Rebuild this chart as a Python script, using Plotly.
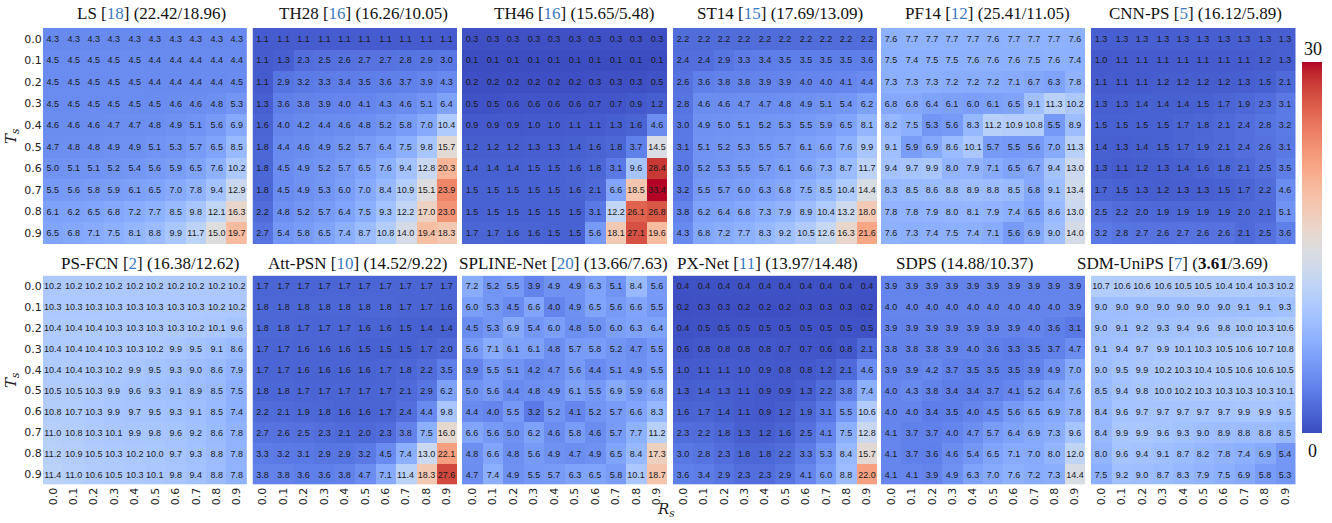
import plotly.graph_objects as go

W, H = 1332, 523
RS = ["0.0", "0.1", "0.2", "0.3", "0.4", "0.5", "0.6", "0.7", "0.8", "0.9"]
TS = ["0.0", "0.1", "0.2", "0.3", "0.4", "0.5", "0.6", "0.7", "0.8", "0.9"]

LS = [
    [4.3, 4.3, 4.3, 4.3, 4.3, 4.3, 4.3, 4.3, 4.3, 4.3],
    [4.5, 4.5, 4.5, 4.5, 4.5, 4.4, 4.4, 4.4, 4.4, 4.4],
    [4.5, 4.5, 4.5, 4.5, 4.5, 4.4, 4.4, 4.4, 4.4, 4.5],
    [4.5, 4.5, 4.5, 4.5, 4.5, 4.5, 4.6, 4.6, 4.8, 5.3],
    [4.6, 4.6, 4.6, 4.7, 4.7, 4.8, 4.9, 5.1, 5.6, 6.9],
    [4.7, 4.8, 4.8, 4.9, 4.9, 5.1, 5.3, 5.7, 6.5, 8.5],
    [5.0, 5.1, 5.1, 5.2, 5.4, 5.6, 5.9, 6.5, 7.6, 10.2],
    [5.5, 5.6, 5.8, 5.9, 6.1, 6.5, 7.0, 7.8, 9.4, 12.9],
    [6.1, 6.2, 6.5, 6.8, 7.2, 7.7, 8.5, 9.8, 12.1, 16.3],
    [6.5, 6.8, 7.1, 7.5, 8.1, 8.8, 9.9, 11.7, 15.0, 19.7],
]
TH28 = [
    [1.1, 1.1, 1.1, 1.1, 1.1, 1.1, 1.1, 1.1, 1.1, 1.1],
    [1.1, 1.3, 2.3, 2.5, 2.6, 2.7, 2.7, 2.8, 2.9, 3.0],
    [1.1, 2.9, 3.2, 3.3, 3.4, 3.5, 3.6, 3.7, 3.9, 4.3],
    [1.3, 3.6, 3.8, 3.9, 4.0, 4.1, 4.3, 4.6, 5.1, 6.4],
    [1.6, 4.0, 4.2, 4.4, 4.6, 4.8, 5.2, 5.8, 7.0, 10.4],
    [1.8, 4.4, 4.6, 4.9, 5.2, 5.7, 6.4, 7.5, 9.8, 15.7],
    [1.8, 4.5, 4.9, 5.2, 5.7, 6.5, 7.6, 9.4, 12.8, 20.3],
    [1.8, 4.5, 4.9, 5.3, 6.0, 7.0, 8.4, 10.9, 15.1, 23.9],
    [2.2, 4.8, 5.2, 5.7, 6.4, 7.5, 9.3, 12.2, 17.0, 23.0],
    [2.7, 5.4, 5.8, 6.5, 7.4, 8.7, 10.8, 14.0, 19.4, 18.3],
]
TH46 = [
    [0.3, 0.3, 0.3, 0.3, 0.3, 0.3, 0.3, 0.3, 0.3, 0.3],
    [0.1, 0.1, 0.1, 0.1, 0.1, 0.1, 0.1, 0.1, 0.1, 0.1],
    [0.2, 0.2, 0.2, 0.2, 0.2, 0.2, 0.3, 0.3, 0.3, 0.5],
    [0.5, 0.5, 0.6, 0.6, 0.6, 0.6, 0.7, 0.7, 0.9, 1.2],
    [0.9, 0.9, 0.9, 1.0, 1.0, 1.1, 1.1, 1.3, 1.6, 4.6],
    [1.2, 1.2, 1.2, 1.3, 1.3, 1.4, 1.6, 1.8, 3.7, 14.5],
    [1.4, 1.4, 1.4, 1.5, 1.5, 1.6, 1.8, 3.1, 9.6, 28.4],
    [1.5, 1.5, 1.5, 1.5, 1.5, 1.6, 2.1, 6.6, 18.5, 33.4],
    [1.5, 1.5, 1.5, 1.5, 1.5, 1.5, 3.1, 12.2, 26.1, 26.8],
    [1.7, 1.7, 1.6, 1.6, 1.5, 1.5, 5.6, 18.1, 27.1, 19.6],
]
ST14 = [
    [2.2, 2.2, 2.2, 2.2, 2.2, 2.2, 2.2, 2.2, 2.2, 2.2],
    [2.4, 2.4, 2.9, 3.3, 3.4, 3.5, 3.5, 3.5, 3.5, 3.6],
    [2.6, 3.6, 3.8, 3.8, 3.9, 3.9, 4.0, 4.0, 4.1, 4.4],
    [2.8, 4.6, 4.6, 4.7, 4.7, 4.8, 4.9, 5.1, 5.4, 6.2],
    [3.0, 4.9, 5.0, 5.1, 5.2, 5.3, 5.5, 5.9, 6.5, 8.1],
    [3.1, 5.1, 5.2, 5.3, 5.5, 5.7, 6.1, 6.6, 7.6, 9.9],
    [3.0, 5.2, 5.3, 5.5, 5.7, 6.1, 6.6, 7.3, 8.7, 11.7],
    [3.2, 5.5, 5.7, 6.0, 6.3, 6.8, 7.5, 8.5, 10.4, 14.4],
    [3.8, 6.2, 6.4, 6.8, 7.3, 7.9, 8.9, 10.4, 13.2, 18.0],
    [4.3, 6.8, 7.2, 7.7, 8.3, 9.2, 10.5, 12.6, 16.3, 21.6],
]
PF14 = [
    [7.6, 7.7, 7.7, 7.7, 7.7, 7.6, 7.7, 7.7, 7.7, 7.6],
    [7.5, 7.4, 7.5, 7.5, 7.6, 7.6, 7.6, 7.5, 7.6, 7.4],
    [7.3, 7.3, 7.3, 7.2, 7.2, 7.2, 7.1, 6.7, 6.3, 7.8],
    [6.8, 6.8, 6.4, 6.1, 6.0, 6.1, 6.5, 9.1, 11.3, 10.2],
    [8.2, 7.5, 5.3, 5.6, 8.3, 11.2, 10.9, 10.8, 5.5, 8.9],
    [9.1, 5.9, 6.9, 8.6, 10.1, 5.7, 5.5, 5.6, 7.0, 11.3],
    [9.4, 9.7, 9.9, 8.0, 7.9, 7.1, 6.5, 6.7, 9.4, 13.0],
    [8.3, 8.5, 8.6, 8.8, 8.9, 8.8, 8.5, 6.8, 9.1, 13.4],
    [7.8, 7.8, 7.9, 8.0, 8.1, 7.9, 7.4, 6.5, 8.6, 13.0],
    [7.6, 7.3, 7.4, 7.5, 7.4, 7.1, 5.6, 6.9, 9.0, 14.0],
]
CNNPS = [
    [1.3, 1.3, 1.3, 1.3, 1.3, 1.3, 1.3, 1.3, 1.3, 1.3],
    [1.0, 1.1, 1.1, 1.1, 1.1, 1.1, 1.1, 1.1, 1.2, 1.3],
    [1.1, 1.1, 1.1, 1.2, 1.2, 1.2, 1.2, 1.3, 1.5, 2.1],
    [1.3, 1.3, 1.4, 1.4, 1.4, 1.5, 1.7, 1.9, 2.3, 3.1],
    [1.5, 1.5, 1.5, 1.5, 1.7, 1.8, 2.1, 2.4, 2.8, 3.2],
    [1.4, 1.3, 1.4, 1.5, 1.7, 1.9, 2.1, 2.4, 2.6, 3.1],
    [1.3, 1.1, 1.2, 1.3, 1.4, 1.6, 1.8, 2.1, 2.5, 3.5],
    [1.7, 1.5, 1.3, 1.2, 1.3, 1.3, 1.5, 1.7, 2.2, 4.6],
    [2.5, 2.2, 2.0, 1.9, 1.9, 1.9, 1.9, 2.0, 2.1, 5.1],
    [3.2, 2.8, 2.7, 2.6, 2.7, 2.6, 2.6, 2.1, 2.5, 3.6],
]
PSFCN = [
    [10.2, 10.2, 10.2, 10.2, 10.2, 10.2, 10.2, 10.2, 10.2, 10.2],
    [10.3, 10.3, 10.3, 10.3, 10.3, 10.3, 10.3, 10.3, 10.2, 10.2],
    [10.4, 10.4, 10.4, 10.3, 10.3, 10.3, 10.3, 10.2, 10.1, 9.6],
    [10.4, 10.4, 10.4, 10.3, 10.3, 10.2, 9.9, 9.5, 9.1, 8.6],
    [10.4, 10.4, 10.3, 10.2, 9.9, 9.5, 9.3, 9.0, 8.6, 7.9],
    [10.5, 10.5, 10.3, 9.9, 9.6, 9.3, 9.1, 8.9, 8.5, 7.5],
    [10.8, 10.7, 10.3, 9.9, 9.7, 9.5, 9.3, 9.1, 8.5, 7.4],
    [11.0, 10.8, 10.3, 10.1, 9.9, 9.8, 9.6, 9.2, 8.6, 7.8],
    [11.2, 10.9, 10.5, 10.3, 10.2, 10.0, 9.7, 9.3, 8.8, 7.8],
    [11.4, 11.0, 10.6, 10.5, 10.3, 10.1, 9.8, 9.4, 8.8, 7.8],
]
ATTPSN = [
    [1.7, 1.7, 1.7, 1.7, 1.7, 1.7, 1.7, 1.7, 1.7, 1.7],
    [1.8, 1.8, 1.8, 1.8, 1.8, 1.8, 1.8, 1.7, 1.7, 1.6],
    [1.8, 1.8, 1.7, 1.7, 1.7, 1.6, 1.6, 1.5, 1.4, 1.4],
    [1.7, 1.7, 1.6, 1.6, 1.6, 1.5, 1.5, 1.5, 1.7, 2.0],
    [1.7, 1.7, 1.6, 1.6, 1.6, 1.6, 1.7, 1.8, 2.2, 3.5],
    [1.8, 1.8, 1.7, 1.7, 1.7, 1.7, 1.7, 2.1, 2.9, 6.2],
    [2.2, 2.1, 1.9, 1.8, 1.6, 1.6, 1.7, 2.4, 4.4, 9.8],
    [2.7, 2.6, 2.5, 2.3, 2.1, 2.0, 2.3, 3.8, 7.5, 16.0],
    [3.3, 3.2, 3.1, 2.9, 2.9, 3.2, 4.5, 7.4, 13.0, 22.1],
    [3.8, 3.8, 3.6, 3.6, 3.8, 4.7, 7.1, 11.4, 18.3, 27.6],
]
SPLINE = [
    [7.2, 5.2, 5.5, 3.9, 4.9, 4.9, 6.3, 5.1, 8.4, 5.6],
    [6.0, 5.3, 4.5, 6.6, 4.0, 4.9, 6.5, 5.6, 6.6, 5.5],
    [4.5, 5.3, 6.9, 5.4, 6.0, 4.8, 5.0, 6.0, 6.3, 6.4],
    [5.6, 7.1, 6.1, 6.1, 4.8, 5.7, 5.8, 5.2, 4.7, 5.5],
    [3.9, 5.5, 5.1, 4.2, 4.7, 5.6, 4.4, 5.1, 4.9, 5.5],
    [5.0, 5.6, 4.4, 4.8, 4.9, 6.1, 5.5, 6.9, 5.9, 6.8],
    [4.4, 4.0, 5.5, 3.2, 5.2, 4.1, 5.2, 5.7, 6.6, 8.3],
    [6.6, 5.6, 5.0, 6.2, 4.6, 5.8, 4.6, 5.7, 7.7, 11.2],
    [4.8, 6.6, 4.8, 5.6, 4.9, 4.7, 4.9, 6.5, 8.4, 17.3],
    [4.7, 7.4, 4.9, 5.5, 5.7, 6.3, 6.5, 5.8, 10.1, 18.7],
]
PXNET = [
    [0.4, 0.4, 0.4, 0.4, 0.4, 0.4, 0.4, 0.4, 0.4, 0.4],
    [0.2, 0.3, 0.3, 0.2, 0.2, 0.2, 0.3, 0.3, 0.3, 0.2],
    [0.4, 0.5, 0.5, 0.5, 0.5, 0.5, 0.5, 0.5, 0.5, 0.5],
    [0.6, 0.8, 0.8, 0.8, 0.8, 0.7, 0.7, 0.6, 0.8, 2.1],
    [1.0, 1.1, 1.1, 1.0, 0.9, 0.8, 0.8, 1.2, 2.1, 4.6],
    [1.3, 1.4, 1.3, 1.1, 0.9, 0.9, 1.3, 2.2, 3.8, 7.4],
    [1.6, 1.7, 1.4, 1.1, 0.9, 1.2, 1.9, 3.1, 5.5, 10.6],
    [2.3, 2.2, 1.8, 1.3, 1.2, 1.6, 2.5, 4.1, 7.5, 12.8],
    [3.0, 2.8, 2.3, 1.8, 1.8, 2.2, 3.3, 5.3, 8.4, 15.7],
    [3.6, 3.4, 2.9, 2.3, 2.3, 2.9, 4.1, 6.0, 8.8, 22.0],
]
SDPS = [
    [3.9, 3.9, 3.9, 3.9, 3.9, 3.9, 3.9, 3.9, 3.9, 3.9],
    [4.0, 4.0, 4.0, 4.0, 4.0, 4.0, 4.0, 4.0, 4.0, 3.9],
    [3.9, 3.9, 3.9, 3.9, 3.9, 3.9, 3.9, 4.0, 3.6, 3.1],
    [3.8, 3.8, 3.8, 3.9, 4.0, 3.6, 3.3, 3.5, 3.7, 4.7],
    [3.9, 3.9, 4.2, 3.7, 3.5, 3.5, 3.5, 3.9, 4.9, 7.0],
    [4.0, 4.3, 3.8, 3.4, 3.4, 3.7, 4.1, 5.2, 6.4, 7.6],
    [4.0, 4.0, 3.4, 3.5, 4.0, 4.5, 5.6, 6.5, 6.9, 7.8],
    [4.1, 3.7, 3.7, 4.0, 4.7, 5.7, 6.4, 6.9, 7.3, 9.6],
    [4.1, 3.7, 3.6, 4.6, 5.4, 6.5, 7.1, 7.0, 8.0, 12.0],
    [4.1, 4.1, 3.9, 4.9, 6.3, 7.0, 7.6, 7.2, 7.3, 14.4],
]
SDMUNIPS = [
    [10.7, 10.6, 10.6, 10.6, 10.5, 10.5, 10.4, 10.4, 10.3, 10.2],
    [9.0, 9.0, 9.0, 9.0, 9.0, 9.0, 9.0, 9.1, 9.1, 9.3],
    [9.0, 9.1, 9.2, 9.3, 9.4, 9.6, 9.8, 10.0, 10.3, 10.6],
    [9.1, 9.4, 9.7, 9.9, 10.1, 10.3, 10.5, 10.6, 10.7, 10.8],
    [9.0, 9.5, 9.9, 10.2, 10.3, 10.4, 10.5, 10.6, 10.6, 10.5],
    [8.5, 9.4, 9.8, 10.0, 10.2, 10.3, 10.3, 10.3, 10.3, 10.1],
    [8.4, 9.6, 9.7, 9.7, 9.7, 9.7, 9.7, 9.9, 9.9, 9.5],
    [8.4, 9.9, 9.9, 9.6, 9.3, 9.0, 8.9, 8.8, 8.8, 8.5],
    [8.0, 9.6, 9.4, 9.1, 8.7, 8.2, 7.8, 7.4, 6.9, 5.4],
    [7.5, 9.2, 9.0, 8.7, 8.3, 7.9, 7.5, 6.9, 5.8, 5.3],
]

REF = "<span style='color:#3a7bbf'>%s</span>"
TITLES = [
    "LS [" + REF % "18" + "] (22.42/18.96)",
    "TH28 [" + REF % "16" + "] (16.26/10.05)",
    "TH46 [" + REF % "16" + "] (15.65/5.48)",
    "ST14 [" + REF % "15" + "] (17.69/13.09)",
    "PF14 [" + REF % "12" + "] (25.41/11.05)",
    "CNN-PS [" + REF % "5" + "] (16.12/5.89)",
    "PS-FCN [" + REF % "2" + "] (16.38/12.62)",
    "Att-PSN [" + REF % "10" + "] (14.52/9.22)",
    "SPLINE-Net [" + REF % "20" + "] (13.66/7.63)",
    "PX-Net [" + REF % "11" + "] (13.97/14.48)",
    "SDPS (14.88/10.37)",
    "SDM-UniPS [" + REF % "7" + "] (<b>3.61</b>/3.69)",
]
DATA = [LS, TH28, TH46, ST14, PF14, CNNPS, PSFCN, ATTPSN, SPLINE, PXNET, SDPS, SDMUNIPS]

# layout in pixels
XCOLS = [(42.8, 247.0), (252.5, 457.0), (462.0, 667.0), (673.0, 877.0), (881.0, 1085.0), (1091.0, 1295.5)]
YROWS = [(28.0, 244.0), (275.6, 484.6)]
TITLE_X = [151, 363, 574, 780, 987, 1195, 150, 357, 563, 767, 964, 1172]
TITLE_Y = [14, 263]

COOLWARM = [
    (59, 76, 192), (68, 90, 204), (77, 104, 215), (87, 117, 225), (98, 130, 234),
    (108, 142, 241), (119, 154, 247), (130, 165, 251), (141, 176, 254), (152, 185, 255),
    (163, 194, 255), (174, 201, 253), (184, 208, 249), (194, 213, 244), (204, 217, 238),
    (213, 219, 230), (221, 221, 221), (229, 216, 209), (236, 211, 197), (241, 204, 184),
    (245, 196, 172), (247, 187, 159), (247, 177, 147), (247, 166, 134), (244, 154, 123),
    (241, 141, 111), (236, 127, 99), (229, 112, 88), (222, 96, 77), (213, 80, 66),
    (203, 62, 56), (192, 40, 47), (180, 4, 38),
]
cscale = [[i / (len(COOLWARM) - 1), "rgb(%d,%d,%d)" % c] for i, c in enumerate(COOLWARM)]

fig = go.Figure()
layout = {}
annotations = []
for i, z in enumerate(DATA):
    r, c = divmod(i, 6)
    n = i + 1
    xs = "x" if n == 1 else "x%d" % n
    ys = "y" if n == 1 else "y%d" % n
    fig.add_trace(go.Heatmap(
        z=z, x=RS, y=TS, coloraxis="coloraxis",
        text=[["%.1f" % v for v in row] for row in z],
        texttemplate="%{text}",
        textfont=dict(size=9, color="#1a1a1a", family="Liberation Sans"),
        xaxis=xs, yaxis=ys, hoverinfo="skip",
    ))
    x0, x1 = XCOLS[c]
    y0, y1 = YROWS[r]
    layout["xaxis" if n == 1 else "xaxis%d" % n] = dict(
        domain=[x0 / W, x1 / W], anchor=ys, type="category",
        showticklabels=(r == 1), tickangle=-90, ticks="", ticklen=0,
        tickfont=dict(size=11, family="DejaVu Sans", color="#222"),
        showgrid=False, zeroline=False, showline=False,
    )
    layout["yaxis" if n == 1 else "yaxis%d" % n] = dict(
        domain=[1 - y1 / H, 1 - y0 / H], anchor=xs, type="category",
        autorange="reversed", showticklabels=(c == 0), ticks="",
        tickfont=dict(size=11, family="DejaVu Sans", color="#222"),
        showgrid=False, zeroline=False, showline=False,
    )
    annotations.append(dict(
        text=TITLES[i], x=TITLE_X[i] / W, y=1 - TITLE_Y[r] / H,
        xref="paper", yref="paper", xanchor="center", yanchor="middle",
        showarrow=False, font=dict(size=17, family="Liberation Serif", color="#111"),
    ))

for r in range(2):
    yc = (YROWS[r][0] + YROWS[r][1]) / 2
    annotations.append(dict(
        text="<i>T<sub>s</sub></i>", x=11 / W, y=1 - yc / H, xref="paper", yref="paper",
        xanchor="center", yanchor="middle",
        showarrow=False, textangle=-90, font=dict(size=15, family="DejaVu Serif", color="#222"),
    ))
annotations.append(dict(
    text="<i>R<sub>s</sub></i>", x=666 / W, y=1 - 509 / H, xref="paper", yref="paper",
    xanchor="center", yanchor="middle",
    showarrow=False, font=dict(size=15, family="DejaVu Serif", color="#222"),
))
CB_TOP, CB_BOT = 62, 433
annotations.append(dict(text="30", x=1313 / W, y=1 - 49 / H, xref="paper", yref="paper",
                        xanchor="center", yanchor="middle",
                        showarrow=False, font=dict(size=18, family="Liberation Serif", color="#111")))
annotations.append(dict(text="0", x=1312 / W, y=1 - 451 / H, xref="paper", yref="paper",
                        xanchor="center", yanchor="middle",
                        showarrow=False, font=dict(size=18, family="Liberation Serif", color="#111")))

fig.update_layout(
    width=W, height=H,
    margin=dict(l=0, r=0, t=0, b=0, autoexpand=False),
    paper_bgcolor="white", plot_bgcolor="white",
    coloraxis=dict(
        colorscale=cscale, cmin=0, cmax=30,
        colorbar=dict(
            x=1302 / W, xanchor="left", thickness=20, thicknessmode="pixels",
            y=1 - CB_TOP / H, yanchor="top", len=(CB_BOT - CB_TOP) / H, lenmode="fraction",
            showticklabels=False, ticks="", outlinewidth=0, xpad=0, ypad=0,
        ),
    ),
    annotations=annotations,
    **layout,
)
fig.write_html(
    "out.html",
    config={"displayModeBar": False},
    post_script="document.body.style.margin='0';document.body.style.overflow='hidden';",
)
